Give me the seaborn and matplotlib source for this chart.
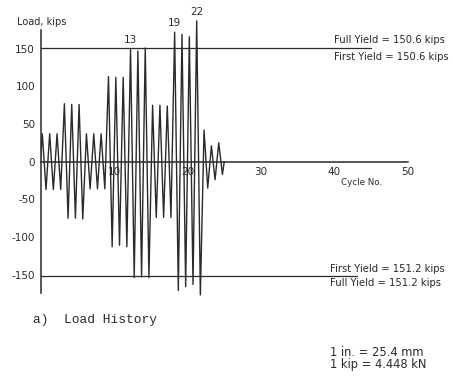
import pandas as pd
import matplotlib
matplotlib.use("Agg")
import matplotlib.pyplot as plt
import seaborn as sns

# valores (kips)
cycles = list(range(1, 26))
pos_peak = [37, 37, 37, 77, 76, 76, 37, 37, 37, 113, 112, 112, 150, 147, 151,
            75, 75, 74, 172, 169, 166, 187, 42, 21, 25]
neg_peak = [37, 37, 37, 75, 75, 76, 36, 36, 36, 113, 111, 113, 154, 153, 154,
            74, 74, 74, 171, 166, 163, 177, 35, 24, 17]
labeled_cycles = [13, 19, 22]
yield_pos = 150.6
yield_neg = -151.2
yticks = [150, 100, 50, 0, -50, -100, -150]
xticks = [10, 20, 30, 40, 50]

# montar a serie de carga: pico positivo e negativo em cada ciclo
xs, ys = [0], [0]
for c, p, n in zip(cycles, pos_peak, neg_peak):
    xs += [c - 0.75, c - 0.25]
    ys += [p, -n]
xs.append(cycles[-1])
ys.append(0)
df = pd.DataFrame({"cycle": xs, "load": ys})

sns.set_style("white")
plt.rcParams["font.family"] = ["DejaVu Sans"]
plt.rcParams["axes.unicode_minus"] = False

fig = plt.figure(figsize=(4.53, 3.79), dpi=100)
ax = fig.add_axes([40.5 / 453, 0.2158, 367.5 / 453, 0.7549])

ink = "#2a2a2a"
sns.lineplot(data=df, x="cycle", y="load", ax=ax, color=ink, lw=1.0,
             estimator=None, sort=False)

# linhas de escoamento
ax.plot([0, 45], [yield_pos, yield_pos], color=ink, lw=0.9)
ax.plot([0, 43], [yield_neg, yield_neg], color=ink, lw=0.9)

ax.set_xlim(0, 50)
ax.set_ylim(-180, 200)
ax.set_xlabel("")
ax.set_ylabel("")

for s in ["top", "right"]:
    ax.spines[s].set_visible(False)
ax.spines["bottom"].set_position(("data", 0))
ax.spines["bottom"].set_bounds(0, 50)
ax.spines["left"].set_bounds(-175, 175)
for s in ["bottom", "left"]:
    ax.spines[s].set_color(ink)
    ax.spines[s].set_linewidth(1.1)

ax.set_yticks(yticks)
ax.set_yticks([125, 75, 25, -25, -75, -125], minor=True)
ax.set_xticks(xticks)
ax.tick_params(axis="y", which="both", direction="inout", length=5,
               width=1.0, color=ink, labelsize=7.5, pad=1.5, labelcolor=ink)
ax.tick_params(axis="x", direction="inout", length=4, width=1.0, color=ink,
               labelsize=7.5, pad=2, labelcolor=ink)
for lab in ax.get_xticklabels()[:2]:
    lab.set_bbox(dict(facecolor="white", edgecolor="none", pad=0.6))

# numeros dos ciclos nos picos
for c in labeled_cycles:
    ax.annotate(str(c), (c - 0.75, pos_peak[c - 1]), xytext=(0, 3),
                textcoords="offset points", ha="center", va="bottom",
                fontsize=7.5, color=ink)

ax.text(39.9, 161.5, "Full Yield = 150.6 kips", fontsize=7.2, color=ink,
        va="center")
ax.text(39.9, 139.5, "First Yield = 150.6 kips", fontsize=7.2, color=ink,
        va="center")
ax.text(39.4, -143, "First Yield = 151.2 kips", fontsize=7.2, color=ink,
        va="center")
ax.text(39.4, -161.5, "Full Yield = 151.2 kips", fontsize=7.2, color=ink,
        va="center")
ax.text(43.7, -28, "Cycle No.", fontsize=6.3, color=ink, ha="center",
        va="center")

fig.text(17 / 453, 1 - 21.7 / 379, "Load, kips", fontsize=7, color=ink,
         va="center")
fig.text(33 / 453, 1 - 320 / 379, "a)  Load History", fontsize=9.3,
         family="Liberation Mono", color=ink, va="center")
fig.text(330 / 453, 1 - 353 / 379, "1 in. = 25.4 mm", fontsize=8.3,
         color=ink, va="center")
fig.text(330 / 453, 1 - 364.5 / 379, "1 kip = 4.448 kN", fontsize=8.3,
         color=ink, va="center")

fig.savefig("out.png", dpi=100, facecolor="white")
